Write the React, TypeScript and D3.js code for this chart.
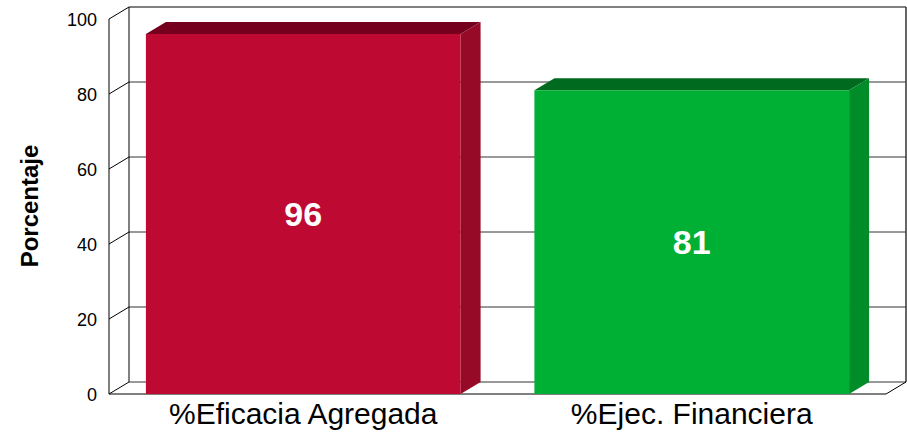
import React, { useEffect, useRef } from 'react';
import * as d3 from 'd3';

const categories = ['%Eficacia Agregada', '%Ejec. Financiera'];
const values = [96, 81];
const frontColors = ['#be0a32', '#00b034'];
const topColors = ['#74001e', '#006b1e'];
const sideColors = ['#960a28', '#008c28'];
const yTicks = [0, 20, 40, 60, 80, 100];

const App = () => {
  const svgRef = useRef<SVGSVGElement>(null);

  useEffect(() => {
    const svg = d3.select(svgRef.current);
    svg.selectAll('*').remove();

    const dx = 20;
    const dy = -12;
    const left = 109;
    const right = 886;
    const font = 'Liberation Sans, Arial, sans-serif';
    const y = d3.scaleLinear().domain([0, 100]).range([394, 19]);
    const x = d3.scaleBand().domain(categories).range([left, right]).paddingInner(0.19).paddingOuter(0.095);

    const g = svg.append('g');

    // back wall grid
    yTicks.forEach(t => {
      const top = t === 100;
      g.append('line')
        .attr('x1', left + dx).attr('x2', right + dx)
        .attr('y1', y(t) + dy).attr('y2', y(t) + dy)
        .attr('stroke', top ? '#808080' : '#333')
        .attr('stroke-width', top ? 2 : 1);
      g.append('line')
        .attr('x1', left).attr('x2', left + dx)
        .attr('y1', y(t)).attr('y2', y(t) + dy)
        .attr('stroke', '#000');
    });
    // walls
    g.append('line').attr('x1', left + dx).attr('x2', left + dx).attr('y1', y(100) + dy).attr('y2', y(0) + dy).attr('stroke', '#000');
    g.append('line').attr('x1', right + dx).attr('x2', right + dx).attr('y1', y(100) + dy).attr('y2', y(0) + dy).attr('stroke', '#333').attr('stroke-width', 1.5);
    g.append('line').attr('x1', left).attr('x2', left).attr('y1', y(100)).attr('y2', y(0)).attr('stroke', '#000');
    g.append('line').attr('x1', left).attr('x2', right).attr('y1', y(0)).attr('y2', y(0)).attr('stroke', '#000');
    g.append('line').attr('x1', right).attr('x2', right + dx).attr('y1', y(0)).attr('y2', y(0) + dy).attr('stroke', '#000');

    // bars
    categories.forEach((c, i) => {
      const x0 = x(c)!;
      const x1 = x0 + x.bandwidth();
      const yt = y(values[i]);
      const yb = y(0);
      g.append('polygon')
        .attr('points', [[x0, yt], [x0 + dx, yt + dy], [x1 + dx, yt + dy], [x1, yt]].map(p => p.join(',')).join(' '))
        .attr('fill', topColors[i]);
      g.append('polygon')
        .attr('points', [[x1, yt], [x1 + dx, yt + dy], [x1 + dx, yb + dy], [x1, yb]].map(p => p.join(',')).join(' '))
        .attr('fill', sideColors[i]);
      g.append('rect')
        .attr('x', x0).attr('y', yt).attr('width', x.bandwidth()).attr('height', yb - yt)
        .attr('fill', frontColors[i]);
      g.append('text')
        .attr('x', x0 + x.bandwidth() / 2).attr('y', (yt + yb) / 2 + 12)
        .attr('text-anchor', 'middle')
        .attr('font-family', font)
        .attr('font-weight', 'bold').attr('font-size', 34).attr('fill', '#fff')
        .text(values[i]);
      g.append('text')
        .attr('x', x0 + x.bandwidth() / 2).attr('y', 424)
        .attr('text-anchor', 'middle')
        .attr('font-family', font)
        .attr('font-size', 30).attr('fill', '#000')
        .text(c);
    });

    // y tick labels
    yTicks.forEach(t => {
      g.append('text')
        .attr('x', 97).attr('y', y(t) + 7)
        .attr('text-anchor', 'end')
        .attr('font-family', font)
        .attr('font-size', 18).attr('fill', '#000')
        .text(t);
    });

    g.append('text')
      .attr('transform', 'translate(38,206) rotate(-90)')
      .attr('text-anchor', 'middle')
      .attr('font-family', font)
      .attr('font-weight', 'bold').attr('font-size', 24).attr('fill', '#000')
      .text('Porcentaje');
  }, []);

  return <svg ref={svgRef} width={907} height={438} style={{ position: 'absolute', left: 0, top: 0 }}></svg>;
};

export default App;
